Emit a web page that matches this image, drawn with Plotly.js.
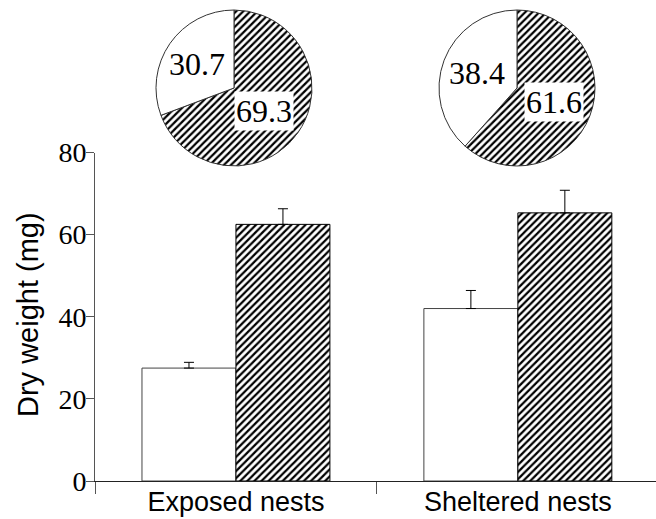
<!DOCTYPE html>
<html>
<head>
<meta charset="utf-8">
<script src="https://cdn.plot.ly/plotly-3.0.1.min.js"></script>
<style>html,body{margin:0;padding:0;background:#fff;}#chart{width:656px;height:519px;}</style>
</head>
<body>
<div id="chart"></div>
<script>
// ---- data ----
const groups = ['Exposed nests', 'Sheltered nests'];
const whiteValues = [27.5, 42.0];
const whiteErr = [1.4, 4.4];
const hatchValues = [62.5, 65.3];
const hatchErr = [3.8, 5.5];
const pieWhite = [30.7, 38.4];
const pieHatched = [69.3, 61.6];
const yTicks = [0, 20, 40, 60, 80];
const yTitle = 'Dry weight (mg)';

// ---- layout helpers ----
const W = 656, H = 519;
const M = {l: 95, r: 0, t: 0, b: 38};
const pw = W - M.l - M.r, ph = H - M.t - M.b;
const px = x => (x - M.l) / pw;
const py = y => (H - M.b - y) / ph;

const serif = 'Liberation Serif';
const sans = 'Liberation Sans';

const hatch = {shape: '/', fgcolor: '#000', bgcolor: '#fff', size: 5, solidity: 0.45};

const traces = [
  {
    type: 'bar', x: groups, y: whiteValues, name: 'white',
    marker: {color: '#fff', line: {color: '#444', width: 1}},
    error_y: {type: 'data', array: whiteErr, arrayminus: [0, 0], symmetric: false, color: '#000', thickness: 1, width: 5},
    hoverinfo: 'skip'
  },
  {
    type: 'bar', x: groups, y: hatchValues, name: 'hatched',
    marker: {color: '#fff', pattern: hatch, line: {color: '#000', width: 1}},
    error_y: {type: 'data', array: hatchErr, arrayminus: [0, 0], symmetric: false, color: '#000', thickness: 1, width: 5},
    hoverinfo: 'skip'
  }
];

const pieCenters = [[234, 88], [517, 88]];
const R = 78;
pieCenters.forEach((c, i) => {
  traces.push({
    type: 'pie',
    values: [pieHatched[i], pieWhite[i]],
    labels: ['hatched', 'white'],
    sort: false, direction: 'clockwise', rotation: 0,
    textinfo: 'none', hoverinfo: 'skip',
    marker: {colors: ['#fff', '#fff'],
      pattern: {shape: ['/', ''], fgcolor: '#000', bgcolor: '#fff', size: 5, solidity: 0.45},
      line: {color: '#333', width: 1}},
    domain: {x: [px(c[0] - R), px(c[0] + R)], y: [py(c[1] + R), py(c[1] - R)]},
    showlegend: false
  });
});

const labelPos = [
  {v: pieWhite[0], x: 197, y: 64, bg: false},
  {v: pieHatched[0], x: 264, y: 111, bg: true},
  {v: pieWhite[1], x: 477, y: 73, bg: false},
  {v: pieHatched[1], x: 554, y: 102, bg: true}
];
const annotations = labelPos.map(a => ({
  xref: 'paper', yref: 'paper', x: px(a.x), y: py(a.y),
  text: a.v.toFixed(1), showarrow: false,
  font: {family: serif, size: 32, color: '#000'},
  bgcolor: a.bg ? '#fff' : 'rgba(0,0,0,0)', borderpad: 1,
  xanchor: 'center', yanchor: 'middle'
}));
annotations.push({
  xref: 'paper', yref: 'paper', x: px(28), y: py(315),
  text: yTitle, textangle: -90, showarrow: false,
  font: {family: sans, size: 29, color: '#000'},
  xanchor: 'center', yanchor: 'middle'
});

const layout = {
  width: W, height: H,
  margin: M,
  paper_bgcolor: '#fff', plot_bgcolor: 'rgba(0,0,0,0)',
  showlegend: false,
  barmode: 'group', bargap: 1/3, bargroupgap: 0,
  xaxis: {
    type: 'category', range: [-0.5, 1.49],
    tickson: 'boundaries', ticks: 'outside', ticklen: 12, tickcolor: '#555', tickwidth: 1,
    showline: true, linecolor: '#222', linewidth: 1,
    showgrid: false, zeroline: false,
    tickfont: {family: sans, size: 27, color: '#000'},
    ticklabelstandoff: -3,
    fixedrange: true
  },
  yaxis: {
    domain: [0, py(152.5)], range: [0, 80],
    tickvals: yTicks, ticks: 'outside', ticklen: 8, tickcolor: '#555', tickwidth: 1,
    showline: true, linecolor: '#555', linewidth: 1,
    showgrid: false, zeroline: false,
    tickfont: {family: serif, size: 28, color: '#000'},
    ticklabelstandoff: -6,
    fixedrange: true
  },
  annotations: annotations
};

Plotly.newPlot('chart', traces, layout, {displayModeBar: false, staticPlot: true});
</script>
</body>
</html>
